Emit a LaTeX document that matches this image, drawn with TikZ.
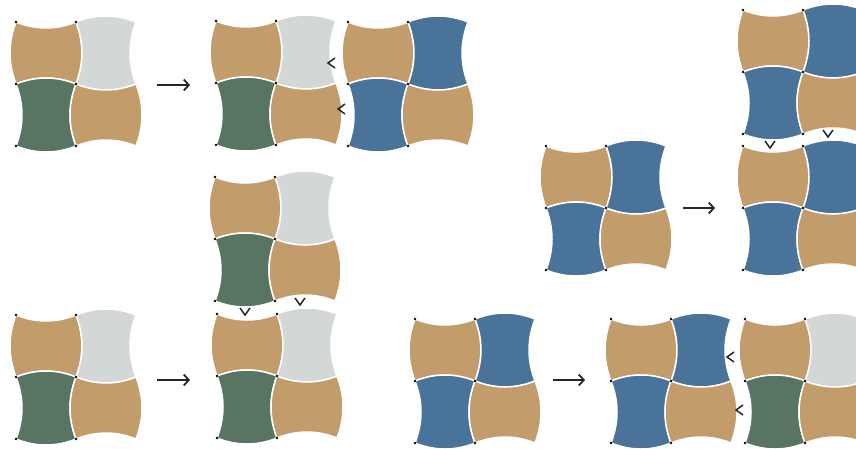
\documentclass[tikz,border=0pt]{standalone}
\usepackage{xcolor}
\usepackage{tikz}
\usetikzlibrary{arrows.meta}

\definecolor{pavetan}{RGB}{195,156,108}
\definecolor{pavegrey}{RGB}{211,216,214}
\definecolor{pavegreen}{RGB}{88,116,98}
\definecolor{paveblue}{RGB}{74,115,153}

% paver with hollow top/bottom and round sides
\newcommand{\paveA}[3]{\filldraw[paver, fill=#3, shift={(#1,#2)}] (0,0) .. controls (20,8) and (40,8) .. (60,0) .. controls (68,21) and (68,41) .. (60,62) .. controls (40,54) and (20,54) .. (0,62) .. controls (-8,41) and (-8,21) .. (0,0) -- cycle;}
% paver with round top/bottom and hollow sides
\newcommand{\paveB}[3]{\filldraw[paver, fill=#3, shift={(#1,#2)}] (0,0) .. controls (20,-8) and (40,-8) .. (60,0) .. controls (52,21) and (52,41) .. (60,62) .. controls (40,70) and (20,70) .. (0,62) .. controls (8,41) and (8,21) .. (0,0) -- cycle;}
% 2x2 block of pavers, #1 = name of its corner
\newcommand{\paveblock}[7]{%
  \coordinate (#1) at (#2,#3);
  \begin{scope}[shift={(#1)}]
    \paveA{0}{0}{#4} \paveB{60}{0}{#5}
    \paveB{0}{62}{#6} \paveA{60}{62}{#7}
    \foreach \px in {0,60} \foreach \py in {0,62,124} \fill[black] (\px,\py) circle (1.4);
  \end{scope}}

\begin{document}
\begin{tikzpicture}[x=1pt, y=-1pt]
\tikzstyle{paver} = [draw=white, line width=1.5pt]
\tikzstyle{arrow} = [line width=1.8pt, draw=black!85, -{Straight Barb[length=5pt, width=11pt]}]
\tikzstyle{push} = [line width=1.5pt, draw=black!85]

\useasboundingbox (0,0) rectangle (856,448);
\clip (0,0) rectangle (856,448);

% top left: sideways shift
\paveblock{b1}{16}{22}{pavetan}{pavegrey}{pavegreen}{pavetan}
\paveblock{b2}{216}{21}{pavetan}{pavegrey}{pavegreen}{pavetan}
\paveblock{b3}{348}{22}{pavetan}{paveblue}{paveblue}{pavetan}
\coordinate (a1) at (157,85);
\coordinate (a1e) at (190,85);
\draw [arrow] (a1) -- (a1e);
\draw [push] (335,58) -- (328,63) -- (335,68);
\draw [push] (345,104) -- (338,109) -- (345,114);

% top right: downward shift
\paveblock{b4}{546}{146}{pavetan}{paveblue}{paveblue}{pavetan}
\paveblock{b5}{743}{10}{pavetan}{paveblue}{paveblue}{pavetan}
\paveblock{b6}{743}{146}{pavetan}{paveblue}{paveblue}{pavetan}
\coordinate (a2) at (683,208);
\coordinate (a2e) at (715,208);
\draw [arrow] (a2) -- (a2e);
\draw [push] (765,141) -- (770,148) -- (775,141);
\draw [push] (823,130) -- (828,137) -- (833,130);

% bottom left: downward shift
\paveblock{b7}{215}{177}{pavetan}{pavegrey}{pavegreen}{pavetan}
\paveblock{b8}{16}{315}{pavetan}{pavegrey}{pavegreen}{pavetan}
\paveblock{b9}{217}{314}{pavetan}{pavegrey}{pavegreen}{pavetan}
\coordinate (a3) at (157,380);
\coordinate (a3e) at (190,380);
\draw [arrow] (a3) -- (a3e);
\draw [push] (240,308) -- (245,315) -- (250,308);
\draw [push] (295,298) -- (300,305) -- (305,298);

% bottom right: sideways shift
\paveblock{b10}{415}{319}{pavetan}{paveblue}{paveblue}{pavetan}
\paveblock{b11}{611}{319}{pavetan}{paveblue}{paveblue}{pavetan}
\paveblock{b12}{745}{319}{pavetan}{pavegrey}{pavegreen}{pavetan}
\coordinate (a4) at (553,380);
\coordinate (a4e) at (585,380);
\draw [arrow] (a4) -- (a4e);
\draw [push] (734,352) -- (727,357) -- (734,362);
\draw [push] (743,405) -- (736,410) -- (743,415);
\end{tikzpicture}
\end{document}
